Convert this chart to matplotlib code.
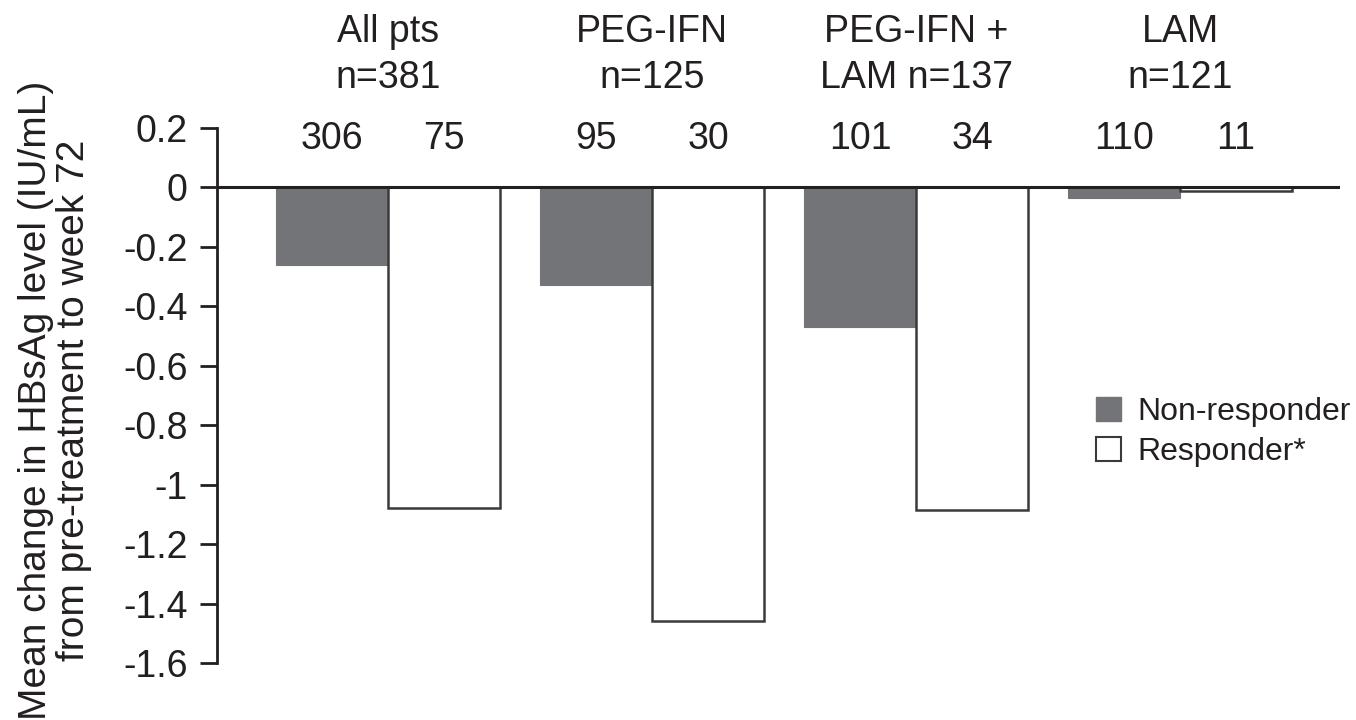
import matplotlib
matplotlib.use("Agg")
import matplotlib.pyplot as plt
import numpy as np
from matplotlib.patches import Patch

group_names = ["All pts", "PEG-IFN", "PEG-IFN +", "LAM"]
group_ns = ["n=381", "n=125", "LAM n=137", "n=121"]
nonresp_n = ["306", "95", "101", "110"]
resp_n = ["75", "30", "34", "11"]
nonresp_vals = [-0.26, -0.327, -0.471, -0.037]
resp_vals = [-1.08, -1.458, -1.084, -0.013]
yticks = [0.2, 0, -0.2, -0.4, -0.6, -0.8, -1, -1.2, -1.4, -1.6]
ytick_labels = ["0.2", "0", "-0.2", "-0.4", "-0.6", "-0.8", "-1", "-1.2", "-1.4", "-1.6"]
legend_labels = ["Non-responder", "Responder*"]

plt.rcParams['font.family'] = ['Liberation Sans', 'DejaVu Sans']
INK = "#231f20"
GRAY = "#737478"
EDGE = "#3a3a3a"
FS = 27

fig = plt.figure(figsize=(13.56, 7.2), dpi=100)
ax = fig.add_axes([217/1356, 1-663/720, (1340-217)/1356, (663-128)/720])

x = np.arange(len(group_names))
w = 0.424
ax.bar(x - w/2, nonresp_vals, width=w, color=GRAY, edgecolor=GRAY, linewidth=0.8, zorder=2)
ax.bar(x + w/2, resp_vals, width=w, color="white", edgecolor=EDGE, linewidth=1.8, zorder=2)

ax.set_xlim(-0.648, 3.606)
ax.set_ylim(-1.6, 0.2)
ax.axhline(0, color=INK, linewidth=2.2, zorder=3)

for s in ["top", "right", "bottom"]:
    ax.spines[s].set_visible(False)
ax.spines["left"].set_color(INK)
ax.spines["left"].set_linewidth(2.0)
ax.set_xticks([])
ax.set_yticks(yticks)
ax.set_yticklabels(ytick_labels, fontsize=FS, color=INK)
ax.tick_params(axis="y", direction="out", length=12, width=2.0, color=INK, pad=9)

for i in range(len(group_names)):
    ax.text(x[i] - w/2, 0.128, nonresp_n[i], ha="center", va="baseline", fontsize=FS, color=INK, clip_on=False)
    ax.text(x[i] + w/2, 0.128, resp_n[i], ha="center", va="baseline", fontsize=FS, color=INK, clip_on=False)
    ax.text(x[i], 0.488, group_names[i], ha="center", va="baseline", fontsize=FS, color=INK, clip_on=False)
    ax.text(x[i], 0.333, group_ns[i], ha="center", va="baseline", fontsize=FS, color=INK, clip_on=False)

fig.text(55/1356, 1-400/720, "Mean change in HBsAg level (IU/mL)\nfrom pre-treatment to week 72",
         rotation=90, ha="center", va="center", multialignment="center",
         fontsize=28, color=INK, linespacing=1.08)

handles = [Patch(facecolor=GRAY, edgecolor=GRAY, label=legend_labels[0]),
           Patch(facecolor="white", edgecolor=EDGE, linewidth=1.5, label=legend_labels[1])]
leg = fig.legend(handles=handles, loc="upper left", bbox_to_anchor=(1096/1356, 1-397/720),
                 bbox_transform=fig.transFigure,
                 frameon=False, fontsize=23, handlelength=0.78, handleheight=0.78,
                 handletextpad=0.5, labelspacing=0.3, borderaxespad=0, borderpad=0)
for t in leg.get_texts():
    t.set_color(INK)

fig.savefig("out.png", dpi=100)
